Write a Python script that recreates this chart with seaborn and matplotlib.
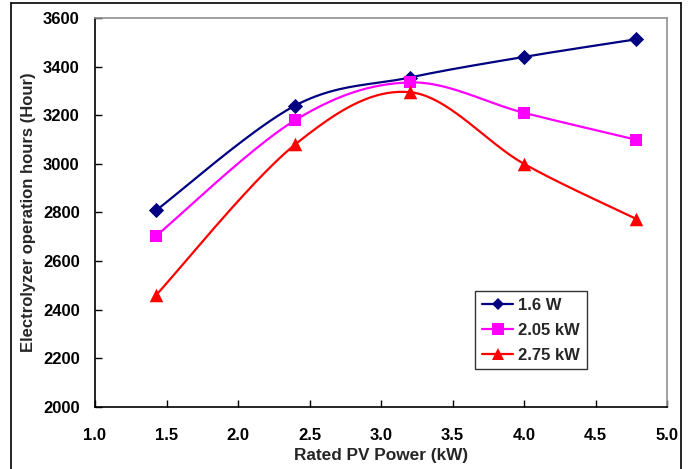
import numpy as np
import pandas as pd
import matplotlib
matplotlib.use("Agg")
import matplotlib.pyplot as plt
import seaborn as sns
from matplotlib.lines import Line2D

pv_power = [1.43, 2.40, 3.20, 4.00, 4.78]
series_names = ["1.6 W", "2.05 kW", "2.75 kW"]
hours_16 = [2810, 3240, 3355, 3440, 3512]
hours_205 = [2705, 3180, 3335, 3210, 3100]
hours_275 = [2462, 3080, 3295, 3000, 2775]
x_ticks = [1.0, 1.5, 2.0, 2.5, 3.0, 3.5, 4.0, 4.5, 5.0]
y_ticks = [2000, 2200, 2400, 2600, 2800, 3000, 3200, 3400, 3600]

colors = ["#000080", "#FF00FF", "#FF0000"]
markers = ["D", "s", "^"]
msizes = [60, 80, 95]

sns.set_theme(style="white")
plt.rcParams["font.family"] = ["Liberation Sans", "DejaVu Sans"]
plt.rcParams["font.weight"] = "bold"


def smooth(xs, ys, n=40):
    # spreadsheet-style smoothed line (Bezier with control = p1 + (p2 - p0) / 6)
    xs = np.asarray(xs, float); ys = np.asarray(ys, float)
    px = np.concatenate([[xs[0]], xs, [xs[-1]]])
    py = np.concatenate([[ys[0]], ys, [ys[-1]]])
    ox, oy = [], []
    for i in range(1, len(px) - 2):
        p0, p1, p2, p3 = [np.array([px[j], py[j]]) for j in range(i - 1, i + 3)]
        c1 = p1 + (p2 - p0) / 6
        c2 = p2 - (p3 - p1) / 6
        u = np.linspace(0, 1, n, endpoint=(i == len(px) - 3))[:, None]
        pts = ((1 - u)**3 * p1 + 3 * (1 - u)**2 * u * c1
               + 3 * (1 - u) * u**2 * c2 + u**3 * p2)
        ox.extend(pts[:, 0]); oy.extend(pts[:, 1])
    return np.array(ox), np.array(oy)


fig = plt.figure(figsize=(6.93, 4.69), dpi=100)
ax = fig.add_axes([95 / 693, 1 - 407 / 469, (667 - 95) / 693, (407 - 18) / 469])

all_series = [hours_16, hours_205, hours_275]
handles = []
for name, ys, c, m, s in zip(series_names, all_series, colors, markers, msizes):
    sx, sy = smooth(pv_power, ys)
    dfl = pd.DataFrame({"x": sx, "y": sy})
    sns.lineplot(data=dfl, x="x", y="y", ax=ax, color=c, linewidth=1.6,
                 sort=False, estimator=None)
    dfp = pd.DataFrame({"x": pv_power, "y": ys})
    sns.scatterplot(data=dfp, x="x", y="y", ax=ax, color=c, marker=m, s=s,
                    edgecolor=c, linewidth=0, zorder=5)
    handles.append(Line2D([], [], color=c, marker=m, markersize=8 if m != "D" else 6.5,
                          linewidth=1.6, markeredgewidth=0))

ax.set_xlim(1.0, 5.0)
ax.set_ylim(2000, 3600)
ax.set_xticks(x_ticks)
ax.set_yticks(y_ticks)
ax.set_xticklabels([f"{v:.1f}" for v in x_ticks], fontsize=12, fontweight="bold")
ax.set_yticklabels([str(v) for v in y_ticks], fontsize=12, fontweight="bold")
ax.tick_params(axis="x", direction="in", length=5, width=1, pad=15, colors="black",
               bottom=True)
ax.tick_params(axis="y", direction="in", length=5, width=1, pad=11, colors="black",
               left=True)
ax.set_xlabel("Rated PV Power (kW)", fontsize=12.4, fontweight="bold", labelpad=4)
ax.set_ylabel("Electrolyzer operation hours (Hour)", fontsize=12, fontweight="bold",
              labelpad=5)
for side in ["left", "bottom"]:
    ax.spines[side].set_color("black")
    ax.spines[side].set_linewidth(1.2)
for side in ["top", "right"]:
    ax.spines[side].set_color("#909090")
    ax.spines[side].set_linewidth(1.2)
ax.grid(False)

leg = ax.legend(handles, series_names, loc="upper left",
                bbox_to_anchor=((475 - 95) / 572, (407 - 291) / 389),
                fontsize=12, frameon=True, fancybox=False,
                handlelength=1.9, borderpad=0.4, labelspacing=0.6, handletextpad=0.3,
                borderaxespad=0)
leg.get_frame().set_edgecolor("black")
leg.get_frame().set_linewidth(1.0)
for t in leg.get_texts():
    t.set_fontweight("bold")

# outer frame of the chart
fx0, fy0, fx1 = 11 / 693, 1 - 3 / 469, 681 / 693
for xs_, ys_ in [([fx0, fx0], [0, fy0]), ([fx0, fx1], [fy0, fy0]), ([fx1, fx1], [fy0, 0])]:
    fig.add_artist(Line2D(xs_, ys_, color="black", linewidth=1.2, transform=fig.transFigure))

fig.savefig("out.png", dpi=100)
